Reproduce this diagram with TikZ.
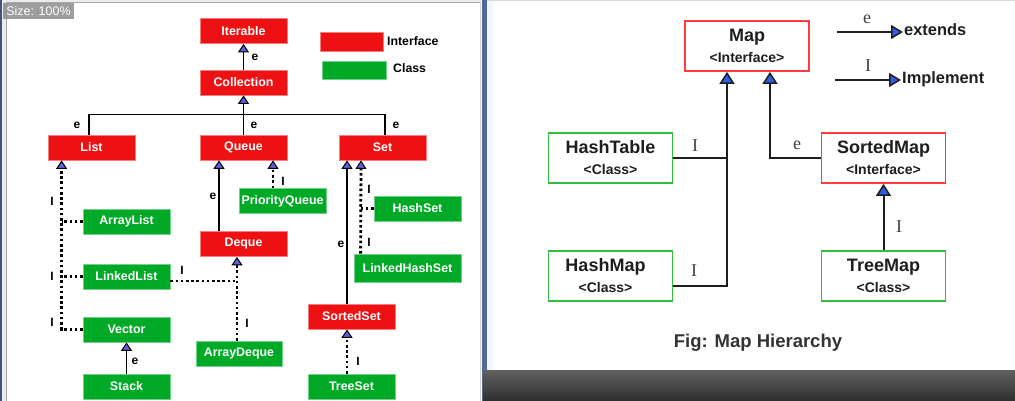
\documentclass[tikz,border=0pt]{standalone}
\usepackage{fontspec}
\setmainfont{Liberation Sans}
\newfontfamily\seriflab{Liberation Serif}
\usetikzlibrary{arrows.meta}
\definecolor{lred}{RGB}{238,17,20}
\definecolor{lgreen}{RGB}{0,170,38}
\definecolor{lblue}{RGB}{95,95,215}
\definecolor{rblue}{RGB}{45,95,230}
\definecolor{rred}{RGB}{255,60,60}
\definecolor{rgreen}{RGB}{50,190,60}
\definecolor{ink}{RGB}{30,30,30}
\definecolor{frameblue}{RGB}{80,105,155}
\begin{document}
\begin{tikzpicture}[x=1pt,y=-1pt,
  lbox/.style={rectangle, minimum width=87pt, minimum height=25pt, inner sep=0pt, text=white,
    font=\fontsize{12.4}{14}\selectfont\bfseries, line width=0.8pt},
  iface/.style={lbox, fill=lred, draw=lred!55!white},
  cls/.style={lbox, fill=lgreen, draw=lgreen!55!white},
  lline/.style={line width=1.3pt, black},
  ldots/.style={line width=2.8pt, dash pattern=on 2.6pt off 2.6pt, black},
  larr/.style={-{Triangle[width=11pt,length=8.5pt,fill=lblue,line width=1pt]}},
  llab/.style={font=\fontsize{12}{14}\selectfont\bfseries, inner sep=0pt},
  rbox/.style={rectangle, minimum width=124pt, minimum height=50pt, inner sep=0pt, fill=white,
    line width=1.8pt, align=center, text=ink, font=\fontsize{14}{21}\selectfont\bfseries},
  rif/.style={rbox, draw=rred},
  rcl/.style={rbox, draw=rgreen},
  rline/.style={line width=2pt, ink},
  rarr/.style={-{Triangle[width=15pt,length=12pt,fill=rblue,line width=1.5pt]}},
  rlab/.style={font=\seriflab\fontsize{18}{20}\selectfont, text=ink!85!white, inner sep=0pt},
  rleg/.style={font=\fontsize{16.4}{18}\selectfont\bfseries, text=ink, inner sep=1pt}
]
\useasboundingbox (0,0) rectangle (1015,401);
% ---------- backgrounds ----------
\fill[white] (0,0) rectangle (483,401);
\fill[gray!15] (0,0) rectangle (483,2.5);
\fill[gray!15] (0,0) rectangle (6,401);
\fill[frameblue!80!black] (0,0) rectangle (2,401);
\draw[gray!70, line width=1pt] (6,401) -- (6,2.5) -- (480,2.5);
\draw[gray!35, line width=1pt] (480,2.5) -- (480,401);
\fill[white] (483,0) rectangle (1015,401);
\fill[blue!4] (487,0) rectangle (493,371);
\fill[gray!30] (483,0) rectangle (1015,1);
\fill[frameblue] (482,0) rectangle (487,401);
\shade[top color=black!62, bottom color=black!82] (483,370) rectangle (1015,401);
\node[fill=black!45, fill opacity=0.85, text opacity=1, text=white, inner sep=0pt,
  minimum width=71pt, minimum height=16pt, font=\fontsize{12.5}{14}\selectfont] (badge) at (38.5,11) {Size: 100\%};

% ---------- left: nodes ----------
\node[iface] (iterable) at (243.5,31) {Iterable};
\node[iface] (collection) at (243.5,82.5) {Collection};
\node[iface] (list) at (91.5,147.5) {List};
\node[iface] (queue) at (243.5,147.5) {Queue};
\node[iface] (set) at (382.5,147.5) {Set};
\node[cls] (arraylist) at (126.5,221.5) {ArrayList};
\node[cls] (linkedlist) at (126.5,276.5) {LinkedList};
\node[cls] (vector) at (126.5,329.5) {Vector};
\node[cls] (stack) at (126.5,386.5) {Stack};
\node[cls] (pq) at (282.5,201) {PriorityQueue};
\node[iface] (deque) at (243.5,244) {Deque};
\node[cls, minimum width=86pt] (arraydeque) at (239,353.5) {ArrayDeque};
\node[cls] (hashset) at (417.5,208.5) {HashSet};
\node[cls, minimum width=107pt, minimum height=28pt] (lhs) at (407.5,268) {LinkedHashSet};
\node[iface] (sortedset) at (351.5,316.5) {SortedSet};
\node[cls] (treeset) at (351.5,386.5) {TreeSet};
% legend
\node[fill=lred, draw=lred!55!white, minimum width=63pt, minimum height=19pt, inner sep=0pt] (legi) at (351.5,41.5) {};
\node[fill=lgreen, draw=lgreen!55!white, minimum width=64pt, minimum height=18pt, inner sep=0pt] (legc) at (354,70) {};
\node[llab, anchor=west, font=\fontsize{12.3}{14}\selectfont\bfseries] (legit) at (387,41) {Interface};
\node[llab, anchor=west, font=\fontsize{12.3}{14}\selectfont\bfseries] (legct) at (393,68) {Class};

% ---------- left: connectors ----------
\draw[lline, larr] (collection) -- (iterable);
\node[llab] (le1) at (255,57) {e};
\draw[lline] ([xshift=-2.5pt]list.north) -- ++(0,-20) -| ([xshift=2.5pt]set.north);
\draw[lline, larr] (queue) -- (collection);
\node[llab] (le2) at (77,125) {e};
\node[llab] (le3) at (254,125) {e};
\node[llab] (le4) at (396,125) {e};
% list family
\coordinate (trunk) at ([xshift=14pt]list.south west);
\draw[ldots, larr] (vector.west) -| (trunk);
\draw[ldots] (arraylist.west) -- (arraylist.west -| trunk);
\draw[ldots] (linkedlist.west) -- (linkedlist.west -| trunk);
\node[llab] (li1) at (52,201) {I};
\node[llab] (li2) at (52,276) {I};
\node[llab] (li3) at (52,322) {I};
\draw[lline, larr] (stack) -- (vector);
\node[llab] (le5) at (135,361) {e};
% queue family
\draw[lline, larr] ([xshift=-24.5pt]deque.north) -- ([xshift=-24.5pt]queue.south);
\node[llab] (le6) at (213,196) {e};
\draw[ldots, larr] ([xshift=-9.5pt]pq.north) -- ([xshift=29.5pt]queue.south);
\node[llab] (li4) at (283,181) {I};
\draw[ldots, larr] ([xshift=-2pt]arraydeque.north) -- ([xshift=-6.5pt]deque.south);
\draw[ldots] ([yshift=-4.5pt]linkedlist.east) -- ([yshift=-4.5pt,xshift=-2pt]linkedlist.east -| arraydeque.north);
\node[llab] (li5) at (182,270) {I};
\node[llab] (li6) at (247,323) {I};
% set family
\draw[lline, larr] ([xshift=-4.5pt]sortedset.north) -- ([xshift=-35.5pt]set.south);
\node[llab] (le7) at (341,244) {e};
\draw[ldots, larr] ([xshift=7pt]lhs.north west) -- ([xshift=-21.5pt]set.south);
\draw[ldots] (hashset.west) -- ([xshift=7pt]hashset.west -| lhs.north west);
\node[llab] (li7) at (369,189) {I};
\node[llab] (li8) at (369,242) {I};
\draw[ldots, larr] ([xshift=-4.5pt]treeset.north) -- ([xshift=-4.5pt]sortedset.south);
\node[llab] (li9) at (358,361) {I};

% ---------- right panel ----------
\node[rif] (map) at (747,46) {{\fontsize{18}{21}\selectfont Map}\\<Interface>};
\node[rcl] (hashtable) at (610.5,158) {{\fontsize{18}{21}\selectfont HashTable}\\<Class>};
\node[rcl] (hashmap) at (610.5,276) {{\fontsize{18}{21}\selectfont HashMap}\hspace*{10pt}\\<Class>\hspace*{10pt}};
\node[rif] (sortedmap) at (883.5,158) {{\fontsize{18}{21}\selectfont SortedMap}\\<Interface>};
\node[rcl] (treemap) at (883.5,276) {{\fontsize{18}{21}\selectfont TreeMap}\\<Class>};
\coordinate (mapl) at ([xshift=-20pt]map.south);
\coordinate (mapr) at ([xshift=23pt]map.south);
\draw[rline, rarr] ([yshift=-10pt]hashmap.east) -| (mapl);
\draw[rline] (hashtable.east) -- (hashtable.east -| mapl);
\draw[rline, rarr] (sortedmap.west) -| (mapr);
\draw[rline, rarr] (treemap.north) -- (sortedmap.south);
\node[rlab] (ri1) at (695,146) {I};
\node[rlab] (ri2) at (694,271) {I};
\node[rlab] (re1) at (797,145) {e};
\node[rlab] (ri3) at (899,227) {I};
% legend
\coordinate (ls1) at (837,32);
\coordinate (ls2) at (835,80);
\node[rleg, anchor=west] (extends) at (903,30) {extends};
\node[rleg, anchor=west] (implement) at (901,79) {Implement};
\draw[rline, -{Triangle[width=14pt,length=12pt,fill=rblue,line width=1.5pt]}] (ls1) -- (ls1 -| extends.west);
\draw[rline, -{Triangle[width=14pt,length=12pt,fill=rblue,line width=1.5pt]}] (ls2) -- (ls2 -| implement.west);
\node[rlab] (le8) at (867,19) {e};
\node[rlab] (li10) at (868,66) {I};
\node[font=\fontsize{18.5}{20}\selectfont\bfseries, text=black!80] (caption) at (758,343) {Fig: Map Hierarchy};
\end{tikzpicture}
\end{document}
